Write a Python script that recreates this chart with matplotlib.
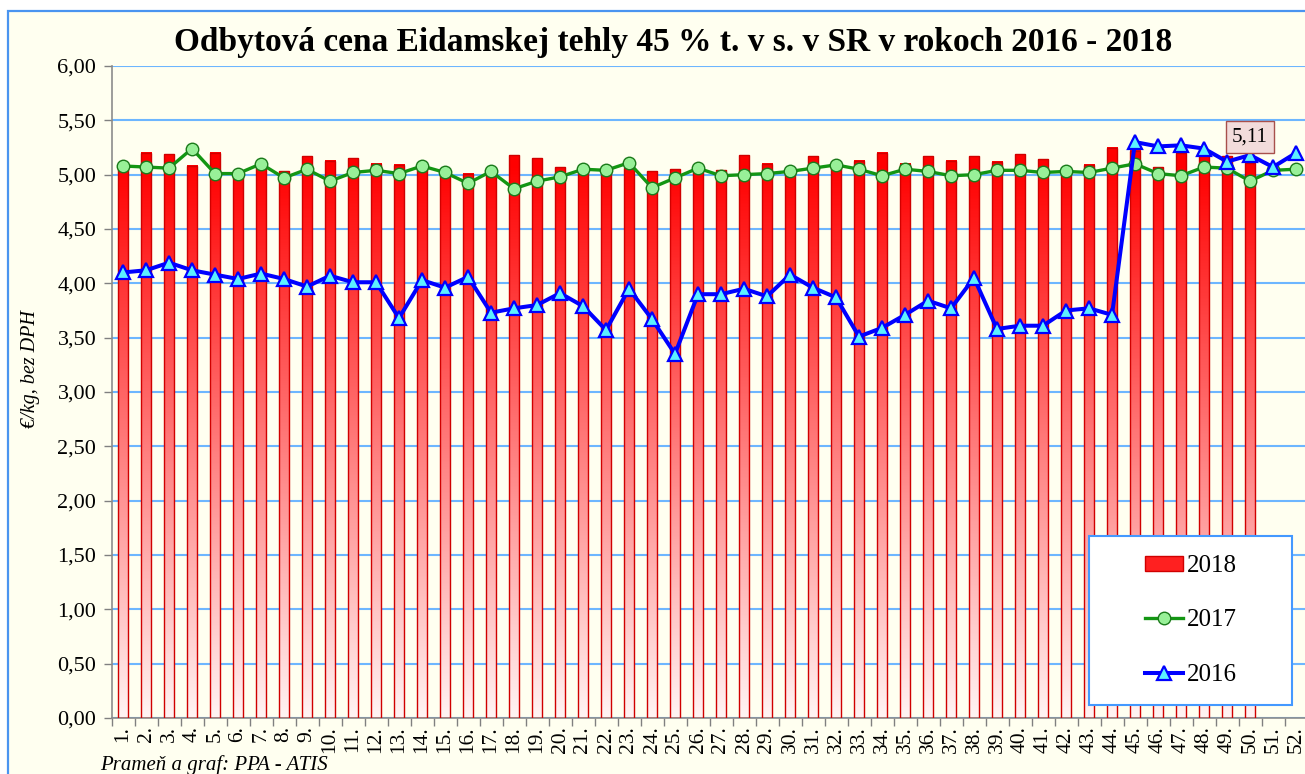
import numpy as np
import matplotlib
matplotlib.use("Agg")
import matplotlib.pyplot as plt
from matplotlib.colors import LinearSegmentedColormap
from matplotlib.patches import Rectangle, Patch
from matplotlib.lines import Line2D

# ---------------- data ----------------
weeks = list(range(1, 53))
week_labels = [f"{w}." for w in weeks]

price_2018 = [5.06, 5.20, 5.19, 5.08, 5.20, 5.01, 5.08, 5.03, 5.17, 5.13,
              5.15, 5.10, 5.09, 5.07, 5.02, 5.01, 5.06, 5.18, 5.15, 5.07,
              5.03, 5.03, 5.06, 5.03, 5.05, 5.04, 5.04, 5.18, 5.10, 5.03,
              5.17, 5.08, 5.13, 5.20, 5.10, 5.17, 5.13, 5.17, 5.12, 5.19,
              5.14, 5.03, 5.09, 5.25, 5.22, 5.07, 5.20, 5.19, 5.17, 5.11]

price_2017 = [5.08, 5.07, 5.06, 5.24, 5.01, 5.01, 5.10, 4.97, 5.05, 4.94,
              5.02, 5.04, 5.01, 5.08, 5.02, 4.92, 5.03, 4.87, 4.94, 4.98,
              5.05, 5.04, 5.11, 4.88, 4.97, 5.06, 4.99, 5.00, 5.01, 5.03,
              5.06, 5.09, 5.05, 4.99, 5.05, 5.03, 4.99, 5.00, 5.04, 5.04,
              5.02, 5.03, 5.02, 5.06, 5.10, 5.01, 4.99, 5.07, 5.06, 4.94,
              5.04, 5.05]

price_2016 = [4.10, 4.12, 4.19, 4.12, 4.08, 4.04, 4.09, 4.04, 3.97, 4.07,
              4.01, 4.01, 3.68, 4.03, 3.96, 4.06, 3.73, 3.77, 3.80, 3.91,
              3.79, 3.57, 3.95, 3.67, 3.35, 3.90, 3.90, 3.95, 3.88, 4.08,
              3.96, 3.87, 3.51, 3.59, 3.71, 3.84, 3.77, 4.05, 3.58, 3.61,
              3.61, 3.75, 3.77, 3.71, 5.30, 5.26, 5.27, 5.24, 5.12, 5.18,
              5.07, 5.20]

y_ticks = [0.0, 0.5, 1.0, 1.5, 2.0, 2.5, 3.0, 3.5, 4.0, 4.5, 5.0, 5.5, 6.0]
y_tick_labels = ["0,00", "0,50", "1,00", "1,50", "2,00", "2,50", "3,00",
                 "3,50", "4,00", "4,50", "5,00", "5,50", "6,00"]
series_names = ["2018", "2017", "2016"]
title_text = "Odbytová cena Eidamskej tehly 45 % t. v s. v SR v rokoch 2016 - 2018"
y_label = "€/kg, bez DPH"
source_text = "Prameň a graf: PPA - ATIS"
label_week = 50
label_text = "5,11"

# ---------------- figure ----------------
plt.rcParams["font.family"] = ["Liberation Serif", "DejaVu Serif"]
W, H = 1305, 774
fig = plt.figure(figsize=(W / 100, H / 100), dpi=100, facecolor="white")

# outer chart frame
frame = Rectangle((8 / W, -0.02), 1.2, (H - 11) / H + 0.02, transform=fig.transFigure,
                  facecolor="#FFFFF0", edgecolor="#4A94F0", lw=1.6, zorder=-10)
fig.patches.append(frame)

ax = fig.add_axes([111.5 / W, 1 - 718 / H, 1196 / W, 652 / H])
ax.set_facecolor("#FFFFF0")
ax.set_axisbelow(True)

# gradient bars for 2018
cmap = LinearSegmentedColormap.from_list("redgrad", ["#FFF3F3", "#FF0000"])
bar_w = 0.44
for w, v in zip(weeks, price_2018):
    grad = np.linspace(0, v, 200).reshape(-1, 1)
    ax.imshow(grad, extent=[w - bar_w / 2, w + bar_w / 2, 0, v], origin="lower",
              aspect="auto", cmap=cmap, vmin=0, vmax=5.1, interpolation="bilinear", zorder=2)
ax.bar(weeks[:len(price_2018)], price_2018, width=bar_w, facecolor="none",
       edgecolor="#D00000", linewidth=1.0, zorder=3)

# lines
ax.plot(weeks, price_2017, color="#139613", lw=2.4, marker="o", markersize=9,
        markerfacecolor="#98F098", markeredgecolor="#1A7A1A", markeredgewidth=1.0, zorder=4)
ax.plot(weeks, price_2016, color="#0000FF", lw=2.9, marker="^", markersize=10,
        markerfacecolor="#5CF0FF", markeredgecolor="#0000FF", markeredgewidth=1.6, zorder=5)

# data label
ax.annotate(label_text, xy=(label_week, price_2018[label_week - 1]), xytext=(0, 18.5),
            textcoords="offset points", ha="center", va="center", fontsize=15, zorder=7,
            bbox=dict(boxstyle="square,pad=0.3", facecolor="#F2DCDB", edgecolor="#A8504C", lw=1.0))

# axes formatting
ax.set_xlim(0.5, 52.5)
ax.set_ylim(0, 6)
ax.set_yticks(y_ticks)
ax.set_yticklabels(y_tick_labels)
ax.yaxis.grid(True, color="#6DB6FF", lw=1.5)
ax.set_xticks(np.arange(0.5, 53, 1))
ax.set_xticklabels([])
ax.set_xticks(weeks, minor=True)
ax.set_xticklabels(week_labels, minor=True, rotation=90)
ax.tick_params(axis="x", which="major", length=6, width=1, color="#808080", direction="out")
ax.tick_params(axis="x", which="minor", length=0, pad=6, labelsize=15.5)
ax.tick_params(axis="y", length=6, width=1, color="#808080", pad=5, labelsize=16)
for s in ["top", "right"]:
    ax.spines[s].set_visible(False)
for s in ["left", "bottom"]:
    ax.spines[s].set_color("#8C8C8C")
    ax.spines[s].set_linewidth(1.2)

# legend frame + legend
lx0, lx1, ly0, ly1 = 1089, 1292, 536, 705
leg_box = Rectangle((lx0 / W, 1 - ly1 / H), (lx1 - lx0) / W, (ly1 - ly0) / H,
                    transform=fig.transFigure, facecolor="white", edgecolor="#4499FF",
                    lw=1.5, zorder=10)
fig.patches.append(leg_box)
handles = [
    Patch(facecolor="#FF2020", edgecolor="#D00000", lw=1.0),
    Line2D([], [], color="#139613", lw=2.4, marker="o", markersize=9,
           markerfacecolor="#98F098", markeredgecolor="#1A7A1A"),
    Line2D([], [], color="#0000FF", lw=2.9, marker="^", markersize=10,
           markerfacecolor="#5CF0FF", markeredgecolor="#0000FF", markeredgewidth=1.6),
]
leg = fig.legend(handles, series_names, loc="center",
                 bbox_to_anchor=((lx0 + lx1) / 2 / W, 1 - (ly0 + ly1) / 2 / H),
                 frameon=False, fontsize=18, handlelength=1.55, handleheight=0.55,
                 handletextpad=0.12, labelspacing=1.3, borderpad=0.0)
leg.set_zorder(11)

# texts
fig.text(673 / W, 1 - 42 / H, title_text, ha="center", va="center",
         fontsize=24, fontweight="bold")
fig.text(30 / W, 1 - 369 / H, y_label, rotation=90, ha="center", va="center",
         fontsize=14.5, style="italic")
fig.text(100 / W, 1 - 765 / H, source_text, ha="left", va="center",
         fontsize=15, style="italic")

fig.savefig("out.png", dpi=100, facecolor="white")
